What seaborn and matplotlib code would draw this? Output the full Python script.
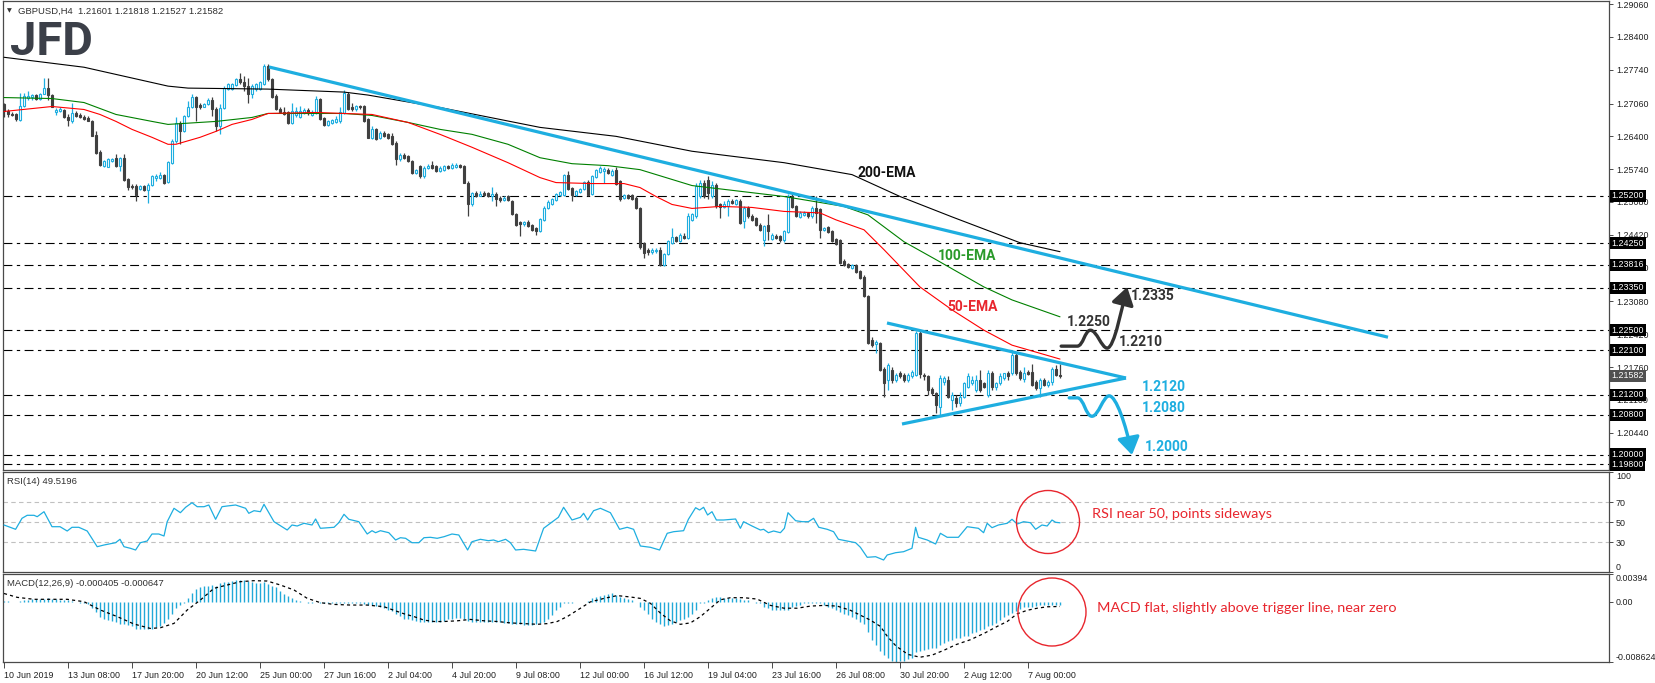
import numpy as np
import matplotlib
matplotlib.use("Agg")
import matplotlib.pyplot as plt
import matplotlib.transforms as mtransforms
from matplotlib.patches import Ellipse, FancyArrowPatch, ArrowStyle
from matplotlib.path import Path
import seaborn as sns

# ---------------- data ----------------
OPEN = [1.2705,1.2691,1.2684,1.2684,1.2673,1.2701,1.2718,1.2720,1.2723,1.2716,1.2726,1.2738,1.2724,1.2688,1.2691,1.2692,1.2679,1.2671,1.2686,1.2682,
        1.2679,1.2676,1.2671,1.2642,1.2608,1.2580,1.2579,1.2590,1.2597,1.2580,1.2597,1.2555,1.2541,1.2540,1.2535,1.2541,1.2533,1.2542,1.2557,1.2557,
        1.2563,1.2548,1.2587,1.2630,1.2667,1.2651,1.2680,1.2698,1.2719,1.2703,1.2700,1.2705,1.2714,1.2695,1.2661,1.2696,1.2735,1.2736,1.2743,1.2755,
        1.2750,1.2741,1.2725,1.2735,1.2735,1.2745,1.2782,1.2755,1.2721,1.2694,1.2688,1.2688,1.2667,1.2683,1.2678,1.2686,1.2692,1.2683,1.2686,1.2716,
        1.2676,1.2663,1.2667,1.2669,1.2671,1.2686,1.2725,1.2698,1.2694,1.2701,1.2701,1.2674,1.2637,1.2654,1.2637,1.2647,1.2644,1.2641,1.2627,1.2594,
        1.2603,1.2600,1.2591,1.2567,1.2580,1.2560,1.2577,1.2583,1.2580,1.2570,1.2573,1.2580,1.2577,1.2578,1.2582,1.2580,1.2547,1.2503,1.2526,1.2521,
        1.2526,1.2526,1.2520,1.2525,1.2516,1.2511,1.2520,1.2509,1.2484,1.2467,1.2464,1.2468,1.2461,1.2456,1.2450,1.2472,1.2496,1.2504,1.2511,1.2522,
        1.2523,1.2562,1.2536,1.2523,1.2529,1.2535,1.2549,1.2525,1.2558,1.2569,1.2570,1.2573,1.2563,1.2573,1.2551,1.2516,1.2522,1.2522,1.2516,1.2496,
        1.2425,1.2412,1.2407,1.2409,1.2412,1.2382,1.2403,1.2425,1.2437,1.2430,1.2439,1.2436,1.2472,1.2479,1.2519,1.2546,1.2553,1.2519,1.2543,1.2503,
        1.2498,1.2499,1.2509,1.2503,1.2509,1.2469,1.2496,1.2479,1.2476,1.2462,1.2432,1.2462,1.2433,1.2440,1.2439,1.2431,1.2447,1.2521,1.2499,1.2478,
        1.2481,1.2485,1.2479,1.2496,1.2493,1.2451,1.2458,1.2449,1.2433,1.2431,1.2390,1.2384,1.2375,1.2382,1.2370,1.2358,1.2319,1.2231,1.2222,1.2224,
        1.2173,1.2150,1.2170,1.2150,1.2165,1.2160,1.2150,1.2157,1.2160,1.2245,1.2160,1.2157,1.2131,1.2123,1.2096,1.2146,1.2150,1.2109,1.2113,1.2103,
        1.2116,1.2136,1.2143,1.2130,1.2150,1.2143,1.2120,1.2165,1.2136,1.2143,1.2154,1.2165,1.2163,1.2200,1.2167,1.2151,1.2167,1.2166,1.2146,1.2133,
        1.2150,1.2140,1.2146,1.2173,1.2160]
HIGH = [1.2708,1.2694,1.2688,1.2686,1.2728,1.2728,1.2732,1.2726,1.2726,1.2728,1.2758,1.2758,1.2726,1.2696,1.2698,1.2694,1.2684,1.2708,1.2691,1.2686,
        1.2683,1.2680,1.2673,1.2651,1.2612,1.2592,1.2597,1.2597,1.2605,1.2599,1.2605,1.2557,1.2544,1.2544,1.2543,1.2543,1.2546,1.2563,1.2565,1.2569,
        1.2565,1.2591,1.2634,1.2678,1.2671,1.2683,1.2711,1.2726,1.2721,1.2708,1.2708,1.2718,1.2719,1.2698,1.2705,1.2741,1.2748,1.2748,1.2758,1.2768,
        1.2762,1.2758,1.2746,1.2748,1.2752,1.2785,1.2786,1.2758,1.2725,1.2698,1.2698,1.2690,1.2708,1.2698,1.2701,1.2696,1.2696,1.2692,1.2721,1.2718,
        1.2678,1.2673,1.2674,1.2681,1.2698,1.2733,1.2730,1.2708,1.2704,1.2704,1.2704,1.2676,1.2660,1.2657,1.2651,1.2651,1.2647,1.2647,1.2630,1.2607,
        1.2607,1.2603,1.2593,1.2574,1.2583,1.2580,1.2585,1.2590,1.2583,1.2580,1.2583,1.2583,1.2587,1.2587,1.2585,1.2583,1.2550,1.2528,1.2530,1.2530,
        1.2530,1.2528,1.2538,1.2528,1.2519,1.2519,1.2522,1.2512,1.2486,1.2470,1.2470,1.2471,1.2463,1.2458,1.2476,1.2499,1.2512,1.2516,1.2527,1.2530,
        1.2565,1.2570,1.2538,1.2532,1.2537,1.2551,1.2553,1.2563,1.2575,1.2580,1.2578,1.2576,1.2575,1.2578,1.2553,1.2525,1.2525,1.2524,1.2519,1.2498,
        1.2427,1.2416,1.2416,1.2416,1.2418,1.2405,1.2432,1.2456,1.2440,1.2446,1.2445,1.2486,1.2486,1.2546,1.2553,1.2553,1.2560,1.2550,1.2546,1.2506,
        1.2509,1.2513,1.2513,1.2513,1.2513,1.2499,1.2499,1.2483,1.2478,1.2465,1.2462,1.2483,1.2445,1.2444,1.2442,1.2452,1.2524,1.2524,1.2502,1.2489,
        1.2489,1.2488,1.2499,1.2519,1.2496,1.2458,1.2460,1.2452,1.2436,1.2433,1.2393,1.2386,1.2384,1.2384,1.2372,1.2361,1.2321,1.2236,1.2231,1.2227,
        1.2177,1.2184,1.2177,1.2165,1.2168,1.2165,1.2165,1.2170,1.2248,1.2248,1.2165,1.2160,1.2135,1.2126,1.2160,1.2157,1.2157,1.2126,1.2120,1.2126,
        1.2146,1.2165,1.2157,1.2160,1.2170,1.2146,1.2170,1.2168,1.2146,1.2163,1.2165,1.2168,1.2210,1.2205,1.2170,1.2177,1.2170,1.2182,1.2150,1.2153,
        1.2153,1.2150,1.2176,1.2180,1.2182]
LOW = [1.2678,1.2679,1.2680,1.2670,1.2671,1.2698,1.2714,1.2714,1.2714,1.2714,1.2725,1.2714,1.2698,1.2683,1.2688,1.2677,1.2661,1.2667,1.2678,1.2676,
       1.2672,1.2670,1.2640,1.2605,1.2580,1.2578,1.2578,1.2588,1.2578,1.2571,1.2551,1.2533,1.2535,1.2510,1.2533,1.2530,1.2506,1.2540,1.2551,1.2555,
       1.2545,1.2546,1.2585,1.2627,1.2624,1.2648,1.2678,1.2696,1.2671,1.2694,1.2698,1.2703,1.2681,1.2651,1.2644,1.2694,1.2733,1.2733,1.2741,1.2745,
       1.2732,1.2708,1.2718,1.2731,1.2733,1.2743,1.2752,1.2717,1.2692,1.2686,1.2683,1.2664,1.2664,1.2678,1.2676,1.2684,1.2683,1.2680,1.2684,1.2673,
       1.2660,1.2660,1.2665,1.2667,1.2667,1.2684,1.2692,1.2690,1.2690,1.2694,1.2668,1.2636,1.2634,1.2632,1.2634,1.2639,1.2634,1.2622,1.2583,1.2590,
       1.2595,1.2589,1.2565,1.2565,1.2557,1.2557,1.2575,1.2574,1.2568,1.2568,1.2571,1.2574,1.2575,1.2576,1.2576,1.2546,1.2479,1.2500,1.2518,1.2519,
       1.2521,1.2518,1.2510,1.2500,1.2507,1.2509,1.2509,1.2481,1.2460,1.2439,1.2460,1.2457,1.2450,1.2442,1.2448,1.2470,1.2494,1.2502,1.2509,1.2520,
       1.2521,1.2533,1.2509,1.2520,1.2526,1.2533,1.2521,1.2522,1.2556,1.2567,1.2547,1.2565,1.2561,1.2543,1.2510,1.2514,1.2514,1.2511,1.2494,1.2413,
       1.2395,1.2402,1.2403,1.2405,1.2380,1.2380,1.2401,1.2423,1.2427,1.2428,1.2434,1.2434,1.2470,1.2476,1.2516,1.2516,1.2513,1.2516,1.2496,1.2476,
       1.2496,1.2479,1.2504,1.2501,1.2463,1.2456,1.2476,1.2470,1.2460,1.2449,1.2419,1.2432,1.2431,1.2433,1.2428,1.2428,1.2445,1.2496,1.2477,1.2476,
       1.2479,1.2476,1.2476,1.2466,1.2435,1.2449,1.2445,1.2427,1.2421,1.2384,1.2380,1.2375,1.2373,1.2366,1.2353,1.2316,1.2222,1.2217,1.2204,1.2168,
       1.2116,1.2130,1.2143,1.2146,1.2153,1.2146,1.2146,1.2154,1.2157,1.2153,1.2150,1.2120,1.2120,1.2084,1.2079,1.2140,1.2113,1.2090,1.2095,1.2098,
       1.2113,1.2133,1.2140,1.2126,1.2126,1.2133,1.2116,1.2130,1.2130,1.2140,1.2150,1.2150,1.2160,1.2160,1.2150,1.2146,1.2160,1.2138,1.2130,1.2116,
       1.2138,1.2136,1.2140,1.2158,1.2153]
CLOSE = [1.2691,1.2684,1.2683,1.2674,1.2701,1.2721,1.2721,1.2723,1.2716,1.2726,1.2738,1.2723,1.2699,1.2692,1.2694,1.2678,1.2672,1.2686,1.2681,1.2678,
         1.2674,1.2671,1.2641,1.2607,1.2582,1.2590,1.2595,1.2595,1.2580,1.2597,1.2553,1.2538,1.2538,1.2522,1.2540,1.2533,1.2543,1.2561,1.2561,1.2563,
         1.2546,1.2589,1.2630,1.2667,1.2651,1.2681,1.2699,1.2719,1.2699,1.2699,1.2705,1.2714,1.2694,1.2661,1.2696,1.2738,1.2746,1.2745,1.2755,1.2750,
         1.2741,1.2725,1.2741,1.2746,1.2750,1.2782,1.2755,1.2719,1.2694,1.2688,1.2684,1.2667,1.2690,1.2691,1.2691,1.2692,1.2686,1.2688,1.2716,1.2674,
         1.2662,1.2671,1.2672,1.2674,1.2688,1.2728,1.2694,1.2694,1.2701,1.2698,1.2671,1.2637,1.2654,1.2634,1.2647,1.2641,1.2637,1.2624,1.2594,1.2603,
         1.2597,1.2590,1.2567,1.2572,1.2560,1.2577,1.2580,1.2576,1.2570,1.2577,1.2580,1.2576,1.2582,1.2582,1.2578,1.2547,1.2503,1.2526,1.2520,1.2525,
         1.2522,1.2520,1.2525,1.2513,1.2511,1.2516,1.2511,1.2483,1.2462,1.2464,1.2468,1.2459,1.2452,1.2449,1.2473,1.2496,1.2508,1.2513,1.2524,1.2528,
         1.2563,1.2535,1.2523,1.2530,1.2535,1.2549,1.2522,1.2560,1.2572,1.2577,1.2574,1.2567,1.2571,1.2545,1.2513,1.2523,1.2516,1.2513,1.2495,1.2417,
         1.2405,1.2407,1.2412,1.2412,1.2382,1.2403,1.2429,1.2437,1.2429,1.2441,1.2436,1.2479,1.2483,1.2540,1.2546,1.2519,1.2526,1.2543,1.2499,1.2498,
         1.2504,1.2509,1.2506,1.2511,1.2466,1.2496,1.2479,1.2472,1.2462,1.2451,1.2459,1.2449,1.2442,1.2435,1.2431,1.2449,1.2521,1.2498,1.2479,1.2486,
         1.2486,1.2479,1.2496,1.2486,1.2452,1.2456,1.2447,1.2429,1.2424,1.2386,1.2382,1.2377,1.2382,1.2368,1.2355,1.2318,1.2224,1.2220,1.2227,1.2170,
         1.2143,1.2180,1.2150,1.2160,1.2157,1.2150,1.2160,1.2167,1.2245,1.2162,1.2157,1.2130,1.2123,1.2099,1.2153,1.2153,1.2116,1.2120,1.2104,1.2116,
         1.2143,1.2157,1.2150,1.2150,1.2130,1.2136,1.2163,1.2136,1.2143,1.2157,1.2163,1.2157,1.2200,1.2165,1.2153,1.2165,1.2162,1.2140,1.2133,1.2150,
         1.2140,1.2146,1.2173,1.2160,1.2158]

EMA200_BARS = [0, 20, 41, 46, 66, 85, 91, 109, 134, 153, 172, 195, 212, 224, 237, 254, 264]
EMA200_VALUES = [1.2799, 1.2779, 1.2741, 1.2737, 1.2735, 1.2729, 1.2723, 1.2698, 1.2658, 1.2640, 1.2610, 1.2587, 1.2563,
                 1.2519, 1.2478, 1.2426, 1.2408]
EMA100_BARS = [0, 12, 20, 28, 37, 41, 45, 53, 62, 66, 85, 92, 101, 109, 117, 126, 134, 142, 151, 159, 172, 195, 210,
               216, 225, 233, 245, 252, 264]
EMA100_VALUES = [1.2718, 1.2716, 1.2708, 1.2684, 1.2670, 1.2664, 1.2666, 1.2670, 1.2678, 1.2686, 1.2686, 1.2682, 1.2668,
                 1.2654, 1.2644, 1.2624, 1.2597, 1.2585, 1.2581, 1.2573, 1.2541, 1.2519, 1.2499, 1.2482, 1.2428, 1.2392,
                 1.2337, 1.2311, 1.2277]
EMA50_BARS = [0, 12, 20, 24, 28, 32, 37, 41, 43, 49, 53, 57, 62, 66, 78, 85, 92, 101, 109, 117, 126, 134, 138, 147, 155,
              159, 163, 167, 172, 179, 187, 195, 204, 208, 215, 220, 229, 237, 245, 252, 258, 264]
EMA50_VALUES = [1.2690, 1.2700, 1.2694, 1.2684, 1.2670, 1.2654, 1.2638, 1.2624, 1.2624, 1.2638, 1.2650, 1.2664, 1.2674,
                1.2686, 1.2688, 1.2686, 1.2684, 1.2668, 1.2644, 1.2618, 1.2587, 1.2557, 1.2547, 1.2545, 1.2545, 1.2537,
                1.2519, 1.2503, 1.2495, 1.2499, 1.2497, 1.2489, 1.2486, 1.2472, 1.2452, 1.2412, 1.2337, 1.2291, 1.2250,
                1.2220, 1.2206, 1.2192]

RSI_BARS = [0, 2.9, 4.5, 5.8, 7.5, 8.3, 10, 12, 14, 15.8, 17, 18.7, 20.8, 23.3, 25, 27.9, 29, 30, 31.6, 32.9, 34.1, 35.8,
            37, 38.7, 40, 40.8, 42.5, 44.1, 45.4, 47, 48.3, 50, 51.2, 52.9, 54.5, 55.8, 57.9, 60.4, 61.2, 62.5, 64.1, 65,
            67.5, 70.8, 72, 73.3, 75, 77, 77.9, 79.1, 82.5, 83.7, 85, 86.2, 88.7, 90.8, 92, 92.9, 94.1, 96.2, 97.9, 99.1,
            100.4, 102, 103.7, 105, 106.6, 108.3, 110, 112, 113.7, 115.9, 117, 119.1, 121.1, 122.4, 123.6, 125.4, 126.6,
            127.9, 129.9, 132.9, 134.9, 136.6, 138.6, 139.9, 142, 144.1, 144.9, 145.9, 147.4, 149.1, 151.6, 153.9, 155.8,
            157.4, 159.1, 161.6, 163.9, 165.8, 167.4, 169.9, 171.1, 172.9, 173.9, 174.9, 175.9, 177, 178.1, 179.9, 182.9,
            184.1, 184.9, 187, 189.1, 189.9, 191.1, 192.4, 194.1, 195.1, 196, 197.9, 199.6, 201.1, 202.4, 203.7, 205.8,
            207.4, 208.6, 210.8, 212.9, 214.1, 215.8, 217.9, 219.9, 220.8, 222.9, 224.9, 227, 227.9, 228.6, 230.8, 232.9,
            234.1, 235.8, 238.6, 240.8, 243.6, 244.9, 245.8, 247, 248.6, 250.8, 252, 253.3, 254.9, 256.6, 257.9, 259.5,
            260.8, 262, 262.9, 264]
RSI_VALUES = [47.3, 43, 54, 57, 57, 55.6, 60.6, 45.6, 45.6, 41.3, 45, 45, 41.3, 25.6, 27.3, 29.6, 33, 25.6, 24, 22.3, 29.6,
              31.3, 38.3, 38.3, 36.3, 50.6, 64, 59.6, 65, 69.6, 65.6, 65.6, 67.3, 53, 65.6, 66.3, 67.3, 64, 59, 61.6, 60.6,
              68, 50.6, 42.3, 47.3, 46.3, 49, 47.3, 53.3, 44, 45, 49.6, 58, 53, 50.6, 38.3, 41.6, 39.6, 41.6, 39.6, 32.3,
              34.6, 34, 29.6, 29.6, 34.6, 35, 34, 35.6, 38.3, 37.3, 22.3, 30.6, 33, 31.6, 32.3, 30.6, 33, 29.6, 22.3, 23,
              21.3, 44, 49, 55, 65, 52.3, 55, 59, 52.3, 61.6, 64, 59.6, 43, 45, 43, 26.3, 25, 22.3, 39, 40.6, 41.6, 53,
              64.6, 62.3, 65, 57.3, 60.6, 52.3, 52.3, 53.3, 44, 50.6, 46.3, 42.3, 43, 39.6, 41.3, 39.6, 44, 59.6, 51.6,
              50.6, 50.6, 54, 45, 43, 40.6, 33, 31.3, 29.6, 25, 15, 15.6, 12.3, 17.3, 19.6, 20.6, 24, 45, 35, 32.3, 28.3,
              39, 35, 35, 45.6, 44, 39.6, 49, 44.6, 47.3, 49, 53, 48.3, 50.6, 49.6, 43, 47.3, 46.3, 52.3, 50, 49.5]
RSI_LEVELS = [30, 50, 70]

# MACD main line histogram, one value per bar, in units of 0.0001
MACD_HIST = [1, 1, 0, 0, 1, 2, 3, 4, 4, 4, 4, 5, 4, 4, 3, 3, 2, 1, 0, -1, -1, -3,
             -9, -14, -21, -24, -26, -27, -28, -31, -32, -33, -35, -38, -39, -39, -39, -38, -36, -35, -30, -24, -17, -9, -5, -1,
             5, 13, 18, 21, 22, 23, 24, 22, 27, 28, 28, 30, 31, 31, 31, 30, 29, 27, 27, 28, 26, 23, 21, 16, 11, 8, 5, 3, 1,
             0, -1, -1, 0, -1, -1, -2, -1, -1, -1, -2, -1, -1, -2, -2, -3,
             -4, -5, -6, -8, -9, -11, -13, -17, -20,
             -24, -25, -26, -27, -28, -28, -28, -29, -29, -28, -27, -25, -24, -23, -23, -24, -27, -28, -29, -29, -29, -29, -29,
             -29, -29, -30, -30, -31, -32, -32, -33, -33, -33, -32, -30, -28, -24, -18, -12, -7, -2, -1, -1, 0, 0, 0, 1, 5, 7,
             9, 10, 11, 12, 10, 7, 5, 4, 2, 0, -7, -12, -17, -24, -28, -32, -35, -33, -31, -28, -26, -24, -21, -17, -12, -2,
             -1, 3, 6, 7, 7, 6, 6, 5, 5, 4, 3, 2, 0, -1, -2, -7, -9, -11, -12, -11, -12, -11, -8, -6, -4, -2, -1, -2, -1, -2,
             -5, -7, -9, -12, -14, -17, -19, -21, -24, -28, -32, -43,
             -55, -62, -70, -76, -80, -84, -86, -85, -84, -82, -80, -72, -70, -68, -67, -66, -66, -61, -58, -56, -54, -52, -52,
             -49, -48, -45, -43, -40, -38, -35, -33, -30, -26, -22, -19, -16, -13, -10, -8, -7, -7, -6, -5, -5, -4, -4, -4, -4]
SIGNAL_BARS = [0, 3.3, 7.5, 11.6, 15.8, 20, 24.1, 28.3, 32.5, 36.6, 39.1, 42.5, 45.8, 49.1, 52.5, 55.8, 59.1, 62.5, 65.8,
               69.1, 72.5, 75.8, 79.1, 82.5, 86.6, 90.8, 95, 97.5, 100, 102.5, 105, 107.5, 110, 113.3, 116.6, 120, 123.3,
               126.6, 130, 133.3, 135.8, 138.3, 140.8, 143.3, 146.6, 150, 153.3, 156.6, 159.1, 161.6, 164.1, 166.6, 169.1,
               171.6, 174.1, 176.6, 179.1, 181.6, 185, 188.3, 191.6, 195, 198.3, 201.6, 205, 208.3, 211.6, 214.1, 216.6,
               219.1, 220.8, 223, 226, 229, 232, 235, 238, 241.6, 245, 248.3, 250.8, 253.3, 255.8, 258.3, 260.8, 264]
SIGNAL_VALUES = [12, 6.5, 3.7, 3.7, 3.7, 0.3, -11.6, -21, -31.6, -37.9, -36.9, -30.7, -11.6, 2.7, 19.4, 24.1, 28.9, 30.3,
                 29.8, 24.1, 17, 5.1, -1.1, -3.6, -4.5, -4.5, -6.9, -12, -17, -21, -26, -28, -28, -27, -25, -27, -28, -30,
                 -31, -32, -31, -28, -21, -12, 0, 5, 9, 7, 5, -2, -16, -27, -32, -30, -21, -9, 3, 6, 6, 4, -5, -9, -9, -6,
                 -5, -6, -12, -19, -26, -35, -49, -63, -75, -79, -76, -69, -61, -54, -45, -35, -28, -17, -12, -9, -7, -6.5]

PRICE_TICKS = [1.29060, 1.28400, 1.27740, 1.27060, 1.26400, 1.25740, 1.25080, 1.24420, 1.23760, 1.23080, 1.22420,
               1.21760, 1.21100, 1.20440]
LEVELS = [1.25200, 1.24250, 1.23816, 1.23350, 1.22500, 1.22100, 1.21200, 1.20800, 1.20000, 1.19800]
LAST_PRICE = 1.21582
X_TICK_BARS = list(range(0, 257, 16))
X_TICK_LABELS = ["10 Jun 2019", "13 Jun 08:00", "17 Jun 20:00", "20 Jun 12:00", "25 Jun 00:00", "27 Jun 16:00",
                 "2 Jul 04:00", "4 Jul 20:00", "9 Jul 08:00", "12 Jul 00:00", "16 Jul 12:00", "19 Jul 04:00",
                 "23 Jul 16:00", "26 Jul 08:00", "30 Jul 20:00", "2 Aug 12:00", "7 Aug 00:00"]

# analyst drawings (bar, price)
LONG_TREND = [(66.25, 1.27795), (346.0, 1.2236)]
TRI_UPPER = [(220.75, 1.22646), (280.5, 1.21539)]
TRI_LOWER = [(224.5, 1.20614), (280.5, 1.21539)]
UP_SCENARIO = [(264.3, 1.2218), (268.3, 1.2218), (269.8, 1.2218), (270.2, 1.2250), (271.6, 1.2250),
               (273.2, 1.2250), (274.4, 1.2214), (275.8, 1.2214), (277.6, 1.2214), (279.6, 1.2300), (280.8, 1.2337)]
DOWN_SCENARIO = [(266.3, 1.2114), (268.3, 1.2114), (270.0, 1.2114), (270.4, 1.2077), (272.0, 1.2077),
                 (273.6, 1.2077), (274.8, 1.2118), (276.3, 1.2118), (278.0, 1.2118), (280.5, 1.2060), (282.0, 1.1999)]

# ---------------- style ----------------
sns.set_theme(style="white")
plt.rcParams["font.family"] = ["Liberation Sans", "DejaVu Sans"]
BLUE = "#1eaee0"
DARK = "#404040"
FRAME = "#4a4a4a"
TXT = "#202020"
RED = "#e8262e"
TICK_FS = 6.4

W, H = 1655, 683
fig = plt.figure(figsize=(W / 100, H / 100), dpi=100)
fig.patch.set_facecolor("white")

def fx(px):
    return px / W

def fy(py):
    return 1 - py / H

left, right = 3, 1609
ax = fig.add_axes([fx(left), fy(470), fx(right - left), (470 - 1) / H])
ax_r = fig.add_axes([fx(left), fy(572.3), fx(right - left), 100 / H])
ax_m = fig.add_axes([fx(left), fy(662.3), fx(right - left), 88 / H])

XLIM = (-0.25, 401.25)
for a in (ax, ax_r, ax_m):
    a.set_facecolor("white")
    a.set_xlim(*XLIM)
    for s in a.spines.values():
        s.set_color(FRAME)
        s.set_linewidth(0.9)
    a.yaxis.tick_right()
    a.tick_params(axis="y", right=True, left=False, length=3, width=0.7, color=FRAME, pad=2,
                  labelsize=TICK_FS, labelcolor=TXT)

# ---------------- main price panel ----------------
n = min(len(OPEN), len(HIGH), len(LOW), len(CLOSE))
o = np.array(OPEN[:n]); h = np.array(HIGH[:n]); l = np.array(LOW[:n]); c = np.array(CLOSE[:n])
idx = np.arange(n)
up = c >= o
for lvl in LEVELS:
    ax.axhline(lvl, color="black", lw=0.8, linestyle=(0, (8, 4, 3, 4)), zorder=1)

ax.vlines(idx[up], l[up], h[up], color=BLUE, lw=0.9, zorder=3)
ax.vlines(idx[~up], l[~up], h[~up], color=DARK, lw=0.9, zorder=3)
body = np.maximum(np.abs(c - o), 0.00004)
bottom = np.minimum(o, c)
ax.bar(idx[up], body[up], bottom=bottom[up], width=0.5, facecolor="white", edgecolor=BLUE, linewidth=0.8, zorder=4)
ax.bar(idx[~up], body[~up], bottom=bottom[~up], width=0.5, facecolor=DARK, edgecolor=DARK, linewidth=0.8, zorder=4)

sns.lineplot(x=EMA200_BARS, y=EMA200_VALUES, ax=ax, color="black", linewidth=0.8, sort=False, zorder=5)
sns.lineplot(x=EMA100_BARS, y=EMA100_VALUES, ax=ax, color="#008000", linewidth=0.8, sort=False, zorder=5)
sns.lineplot(x=EMA50_BARS, y=EMA50_VALUES, ax=ax, color="#ff0000", linewidth=0.8, sort=False, zorder=5)

for line in (LONG_TREND, TRI_UPPER, TRI_LOWER):
    xs, ys = zip(*line)
    ax.plot(xs, ys, color=BLUE, lw=2.3, solid_capstyle="butt", zorder=6)

def scenario(points, color):
    codes = [Path.MOVETO, Path.LINETO] + [Path.CURVE4] * (len(points) - 2)
    p = FancyArrowPatch(path=Path(points, codes), arrowstyle=ArrowStyle("-|>", head_length=0.7, head_width=0.45),
                        mutation_scale=15, color=color, lw=2.4, zorder=7)
    ax.add_patch(p)

scenario(UP_SCENARIO, "#333333")
scenario(DOWN_SCENARIO, BLUE)

lab_font = dict(family=["Roboto", "DejaVu Sans"], fontweight="bold", fontsize=10, va="center", ha="left", zorder=8)
ax.text(213.3, 1.25669, "200-EMA", color="#111111", **lab_font)
ax.text(233.5, 1.23993, "100-EMA", color="#2a9a2a", **lab_font)
ax.text(235.8, 1.22961, "50-EMA", color="#e8262e", **lab_font)
ax.text(265.6, 1.22666, "1.2250", color="#333333", **lab_font)
ax.text(278.8, 1.22264, "1.2210", color="#333333", **lab_font)
ax.text(281.8, 1.23189, "1.2335", color="#333333", **lab_font)
ax.text(284.5, 1.21358, "1.2120", color=BLUE, **lab_font)
ax.text(284.5, 1.20942, "1.2080", color=BLUE, **lab_font)
ax.text(285.3, 1.20158, "1.2000", color=BLUE, **lab_font)

ax.set_ylim(1.19689, 1.29122)
ax.set_yticks(PRICE_TICKS)
ax.set_yticklabels([f"{t:.5f}" for t in PRICE_TICKS])
ax.tick_params(axis="x", bottom=False, labelbottom=False)
ax.set_xlabel(""); ax.set_ylabel("")

trans = mtransforms.blended_transform_factory(ax.transAxes, ax.transData)
for lvl in LEVELS:
    ax.text(1.0015, lvl, f"{lvl:.5f}", transform=trans, ha="left", va="center", color="white", fontsize=TICK_FS,
            bbox=dict(boxstyle="square,pad=0.18", fc="black", ec="none"), zorder=20, clip_on=False)
ax.text(1.0015, LAST_PRICE, f"{LAST_PRICE:.5f}", transform=trans, ha="left", va="center", color="white",
        fontsize=TICK_FS, bbox=dict(boxstyle="square,pad=0.18", fc="#505050", ec="none"), zorder=21, clip_on=False)

# ---------------- RSI panel ----------------
for lv in RSI_LEVELS:
    ax_r.axhline(lv, color="#c0c0c0", lw=0.8, linestyle=(0, (4, 3)), zorder=1)
sns.lineplot(x=RSI_BARS, y=RSI_VALUES, ax=ax_r, color=BLUE, linewidth=0.9, sort=False, zorder=3)
ax_r.set_ylim(0, 100)
ax_r.set_yticks([0, 30, 50, 70, 100])
ax_r.set_yticklabels(["0", "30", "50", "70", "100"])
rl = ax_r.get_yticklabels()
rl[0].set_va("bottom"); rl[-1].set_va("top")
ax_r.tick_params(axis="x", bottom=False, labelbottom=False)
ax_r.set_xlabel(""); ax_r.set_ylabel("")

# ---------------- MACD panel ----------------
hist = np.array(MACD_HIST) * 1e-4
ax_m.vlines(np.arange(len(hist)), 0, hist, color="#22a9d8", lw=1.0, zorder=2)
sns.lineplot(x=SIGNAL_BARS, y=np.array(SIGNAL_VALUES) * 1e-4, ax=ax_m, color="black", linewidth=0.9, sort=False,
             zorder=3)
ax_m.lines[-1].set_linestyle((0, (2.5, 2.5)))
ax_m.set_ylim(-0.008624, 0.00394)
ax_m.set_yticks([-0.008624, 0.0, 0.00394])
ax_m.set_yticklabels(["-0.008624", "0.00", "0.00394"])
ml = ax_m.get_yticklabels()
ml[0].set_va("bottom"); ml[-1].set_va("top")
ax_m.set_xticks(X_TICK_BARS)
ax_m.set_xticklabels(X_TICK_LABELS, ha="left")
ax_m.tick_params(axis="x", bottom=True, length=4, width=0.7, color=FRAME, pad=2, labelsize=TICK_FS, labelcolor=TXT)
ax_m.set_xlabel(""); ax_m.set_ylabel("")

# ---------------- texts & annotations ----------------
fig.text(fx(7), fy(11), "\u25bc", fontsize=4.5, color="#333333", va="center", family=["DejaVu Sans"])
fig.text(fx(18), fy(11), "GBPUSD,H4  1.21601 1.21818 1.21527 1.21582", fontsize=6.8, color="#303030", va="center")
fig.text(fx(10), fy(55), "JFD", fontsize=34, fontweight="bold", color="#3b3f48", va="baseline",
         family=["Roboto", "DejaVu Sans"])
fig.text(fx(7), fy(481), "RSI(14) 49.5196", fontsize=6.8, color="#303030", va="center")
fig.text(fx(7), fy(583), "MACD(12,26,9) -0.000405 -0.000647", fontsize=6.8, color="#303030", va="center")

fig.text(fx(1092), fy(514), "RSI near 50, points sideways", fontsize=10.4, color=RED, va="center",
         family=["Lato", "DejaVu Sans"])
fig.text(fx(1097), fy(608), "MACD flat, slightly above trigger line, near zero", fontsize=10.4, color=RED, va="center",
         family=["Lato", "DejaVu Sans"])
for cx, cy, r in [(1048, 522, 31.5), (1052, 612, 34)]:
    fig.add_artist(Ellipse((fx(cx), fy(cy)), 2 * r / W, 2 * r / H, transform=fig.transFigure, fill=False,
                           ec=RED, lw=1.0))

fig.savefig("out.png", dpi=100, facecolor="white")
